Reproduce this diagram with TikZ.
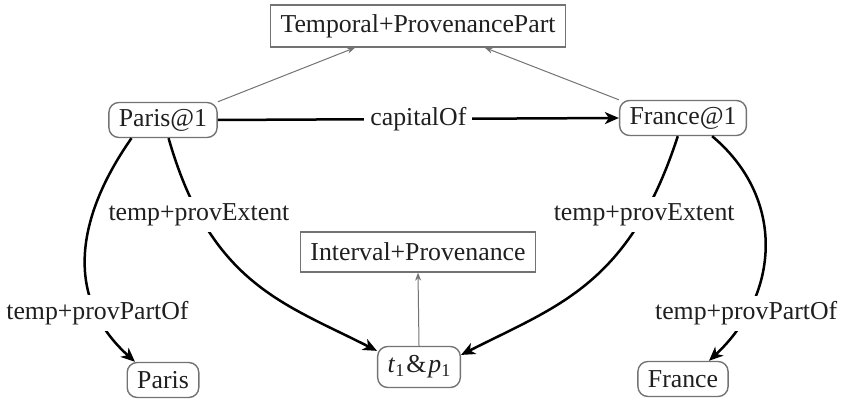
\documentclass[tikz,border=0pt]{standalone}
\usepackage{fontspec}
\setmainfont{Liberation Serif}
\usetikzlibrary{arrows.meta}
\newcommand{\lowidx}[1]{{\fontsize{9}{9}\selectfont\raisebox{-0.45ex}{#1}}}
\begin{document}
\begin{tikzpicture}[x=0.5pt,y=0.5pt,
  every node/.style={font=\fontsize{12.9}{15}\selectfont, text=black!88},
  cls/.style={draw=black!55, line width=0.7pt, inner xsep=5pt, inner ysep=0pt, minimum height=20pt},
  inst/.style={cls, rounded corners=5pt, minimum height=17.5pt},
  rel/.style={line width=1.25pt, -{Stealth[length=7pt,width=6pt,inset=2pt]}},
  typ/.style={draw=black!55, line width=0.5pt, -{Stealth[length=4pt,width=3pt]}},
  lbl/.style={fill=white, inner sep=3pt}]
\useasboundingbox (0,0) rectangle (844,400);

% class boxes
\node[cls, minimum height=21pt] (tpp) at (418,374) {Temporal+ProvenancePart};
\node[cls] (ip) at (418,148) {Interval+Provenance};

% instances
\node[inst] (p1) at (163,280) {Paris@1};
\node[inst] (f1) at (683,282) {France@1};
\node[inst, minimum height=20.5pt] (tp) at (419,33) {\textit{t}\lowidx{1}\kern1pt\&\kern1pt\textit{p}\lowidx{1}};
\node[inst] (paris) at (163,20) {Paris};
\node[inst] (france) at (683,21) {France};

% typing links
\draw[typ] (p1.north east) -- (tpp.-161.6);
\draw[typ] (f1.north west) -- (tpp.-18.7);
\draw[typ] (tp.north) -- (ip.south);

% relations
\draw[rel] (p1.east) -- node[lbl] {capitalOf} (f1.west);
\draw[rel] (p1.-73) to[out=-74, in=153, out looseness=1.3, in looseness=0.9]
  node[lbl, pos=0.21] {temp+provExtent} (tp.159);
\draw[rel] (f1.-106) to[out=-108, in=27, out looseness=1.3, in looseness=0.9]
  node[lbl, pos=0.21] {temp+provExtent} (tp.16);
\draw[rel] (p1.-150) to[out=-125, in=138, looseness=1.1]
  node[lbl, pos=0.76] {temp+provPartOf} (paris.147);
\draw[rel] (f1.-32) to[out=-40, in=43, looseness=1.1]
  node[lbl, pos=0.78] {temp+provPartOf} (france.35);
\end{tikzpicture}
\end{document}
